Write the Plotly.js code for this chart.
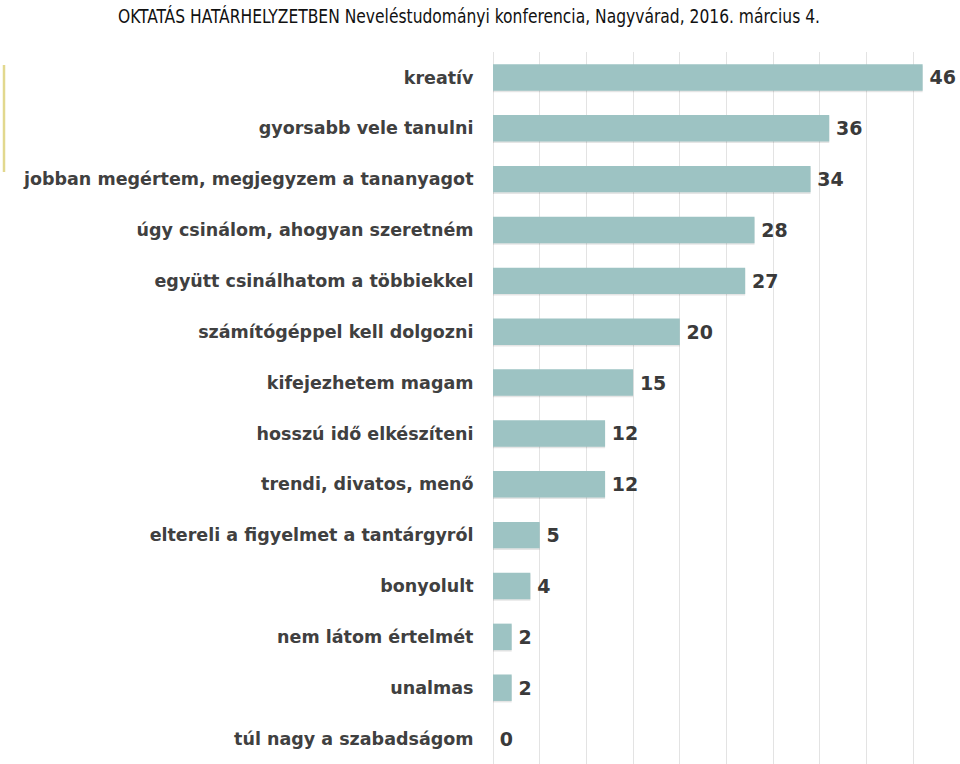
<!DOCTYPE html>
<html>
<head>
<meta charset="utf-8">
<script src="https://cdn.plot.ly/plotly-3.0.1.min.js"></script>
<style>
html,body{margin:0;padding:0;background:#fff;}
#chart{width:960px;height:764px;}
</style>
</head>
<body>
<div id="chart"></div>
<script>
const categories = [
  "kreatív",
  "gyorsabb vele tanulni",
  "jobban megértem, megjegyzem a tananyagot",
  "úgy csinálom, ahogyan szeretném",
  "együtt csinálhatom a többiekkel",
  "számítógéppel kell dolgozni",
  "kifejezhetem magam",
  "hosszú idő elkészíteni",
  "trendi, divatos, menő",
  "eltereli a figyelmet a tantárgyról",
  "bonyolult",
  "nem látom értelmét",
  "unalmas",
  "túl nagy a szabadságom"
];
const values = [46, 36, 34, 28, 27, 20, 15, 12, 12, 5, 4, 2, 2, 0];
const titleText = "OKTATÁS HATÁRHELYZETBEN Neveléstudományi konferencia, Nagyvárad, 2016. március 4.";

const shadow = {
  type: 'bar', orientation: 'h',
  x: values, y: categories,
  width: 0.52, offset: -0.23,
  marker: {color: 'rgba(0,0,0,0.10)', line: {width: 0}},
  hoverinfo: 'skip', showlegend: false
};
const bars = {
  type: 'bar', orientation: 'h',
  x: values, y: categories,
  width: 0.52, offset: -0.26,
  marker: {color: '#9dc3c3', line: {width: 0}},
  text: values.map(v => '\u2009' + v),
  textposition: 'outside',
  cliponaxis: false,
  textfont: {family: 'DejaVu Sans, sans-serif', size: 19, color: '#3a3a3a', weight: 700},
  showlegend: false
};

const layout = {
  width: 960, height: 764,
  margin: {l: 493, r: 0, t: 52, b: 0, pad: 0},
  paper_bgcolor: '#ffffff', plot_bgcolor: '#ffffff',
  barmode: 'overlay',
  title: {
    text: titleText,
    x: 118/960, xanchor: 'left', xref: 'container',
    y: 1 - 16/764, yanchor: 'middle', yref: 'container',
    font: {family: 'DejaVu Sans Condensed, Liberation Sans Narrow, sans-serif', size: 20, color: '#111111'}
  },
  xaxis: {
    range: [0, 50], dtick: 5, tick0: 0,
    showgrid: true, gridcolor: '#e3e3e3', gridwidth: 1,
    zeroline: true, zerolinecolor: '#e3e3e3', zerolinewidth: 1,
    showticklabels: false, ticks: '', showline: false, fixedrange: true
  },
  yaxis: {
    autorange: 'reversed',
    ticks: 'outside', ticklen: 15, tickcolor: 'rgba(0,0,0,0)',
    tickfont: {family: 'DejaVu Sans, sans-serif', size: 17.5, color: '#404040', weight: 700},
    showgrid: false, zeroline: false, showline: false
  },
  shapes: [{
    type: 'line', xref: 'paper', yref: 'paper',
    x0: -489/467, x1: -489/467,
    y0: 1 - (65-52)/712, y1: 1 - (172-52)/712,
    line: {color: '#e2d88e', width: 2.5}
  }]
};

Plotly.newPlot('chart', [shadow, bars], layout, {displayModeBar: false, staticPlot: true}).then(function (gd) {
  // condense the title horizontally to match the narrow typeface of the original
  const t = gd.querySelector('.gtitle');
  if (t) {
    t.setAttribute('textLength', '702');
    t.setAttribute('lengthAdjust', 'spacingAndGlyphs');
  }
});
</script>
</body>
</html>
